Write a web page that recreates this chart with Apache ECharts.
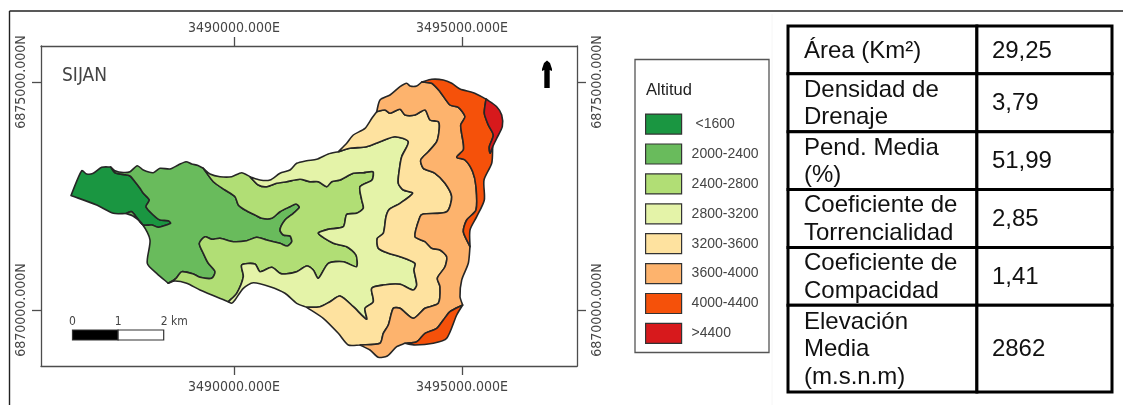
<!DOCTYPE html>
<html><head><meta charset="utf-8">
<style>html,body{margin:0;padding:0;background:#fff}#c{width:1123px;height:405px}</style>
<script src="https://cdn.jsdelivr.net/npm/echarts@6/dist/echarts.min.js"></script>
</head><body><div id="c"></div>
<script>
// Digitised map grid: origin 3490000E / 6870000N, 228 grid units = 5000 m.
const originE = 3490000, originN = 6870000, metresPerUnit = 5000 / 228;
const tickE = [3490000, 3495000];
const tickN = [6870000, 6875000];
const bandNames = ['<1600','2000-2400','2400-2800','2800-3200','3200-3600','3600-4000','4000-4400','>4400'];
const bandColors = ['#1a9641','#69bb5c','#b1de75','#e4f3a8','#fee29f','#fdb36d','#f5510a','#d7191c'];

// basin outline, clockwise, piece by piece
const edgeA = [[-163,114.5],[-152.3,139.3],[-147.3,136],[-140.7,136.7],[-132.3,142.7],[-123.3,143]];
const edgeB = [[-123.3,143],[-119,139.3],[-110.7,137.5],[-104,138.3],[-96.7,144.3],[-90.7,140],[-80.7,137.3],[-74,141.7],[-64,141],[-55.7,145],[-48,148.3],[-42.3,146],[-36,144.5],[-30.7,141.7]];
const edgeC = [[-30.7,141.7],[-24,136],[-14,133.3],[-2.3,133.3],[7.7,137.3],[16,133.3]];
const edgeD = [[16,133.3],[26,130],[36,130],[46,136.7],[56,140],[62.7,146.7],[72.7,149.3],[82.7,150.7],[94.3,156],[104.3,158.3]];
const edgeE = [[104.3,158.3],[112.7,166.7],[119.3,175],[131,181.7],[138,192],[142.7,198.3]];
const edgeF = [[142.7,198.3],[146,210],[156,215],[166,223.3],[172.7,226.7],[176,224],[182.7,224],[187.7,228]];
const edgeG = [[187.7,228],[197.7,230.7],[209.3,230],[217.7,226.7],[226,221],[239.3,217.3],[252,211]];
const edgeH = [[252,211],[262.7,203.3],[267.7,195],[268.3,183.3],[262.7,171.7],[258.7,163.3]];
const edgeI = [[258.7,163.3],[257.7,146.7],[250,130],[250.3,110],[242.7,93.3],[236,80],[236,63.3]];
const edgeJ = [[236,63.3],[234.3,46.7],[227.7,30],[226,13.3],[228.7,5]];
const edgeK = [[228.7,5],[222.7,-5],[212.7,-28.3],[199.3,-33.3],[181,-35],[171,-33.3]];
const edgeL = [[171,-33.3],[162.7,-36.7],[153.3,-46],[144.3,-47.3],[136,-40],[126,-35]];
const edgeM = [[126,-35],[114.3,-35],[104.3,-23.3],[89.3,-8.3],[72.7,2.7]];
const edgeN = [[72.7,2.7],[62.7,6.7],[51,16.7],[36,23.3],[19.3,27.3],[9.3,21.7],[1,10],[-2.3,6.7],[-5.7,8.3]];
const edgeO = [[-5.7,8.3],[-34,20],[-47.3,26.7],[-59,29],[-65.7,26.7]];
const edgeP = [[-65.7,26.7],[-77.3,36.7],[-86.7,46.7],[-84,70],[-92.3,86.7],[-101,94],[-108,96.5]];
const edgeQ = [[-108,96.5],[-120.7,96.7],[-137.3,105],[-163,114.5]];

// contours between the altitude bands
const contourA = [[-123.3,143],[-119,137.3],[-110.7,135.5],[-104,134],[-99,128.3],[-94,121.7],[-90.7,116.7],[-84.7,110],[-88,103.3],[-80.7,95],[-74,90],[-65.7,89.3],[-63.3,86.7],[-70.7,84],[-75.7,82.7],[-82.3,85],[-90.7,85],[-96.7,91.7],[-102.3,98.3],[-108,96.5]];
const contourB = [[-30.7,141.7],[-20.7,128.3],[-9,120],[1,113.3],[4.3,105],[11,100],[21,95],[27.7,91.7],[37.7,91.7],[46,98.3],[56,103.3],[62,106],[65.3,102.7],[59.3,96.7],[51,90],[46,80],[49.3,75],[56,74],[57.7,68.3],[53.3,64],[46,66.7],[32.7,70],[22.7,72.7],[12.7,69.3],[-0.7,68.3],[-14,71.7],[-22.3,70.7],[-29,73.3],[-34.7,66.7],[-30.7,56.7],[-25.7,46.7],[-19,38.3],[-22.3,31.7],[-34,32.7],[-40.7,36],[-52.3,38.3],[-58,31.7],[-65.7,26.7]];
const contourC = [[16,133.3],[24.3,125],[32.7,123.3],[42.7,126.7],[52.7,128.3],[66,130.7],[76,128.3],[84.3,128.3],[92.7,123.3],[97.7,128.3],[106,130],[119.3,136.7],[129.3,137.3],[139,138.3],[138,130],[126,123.3],[127.7,110],[129.3,101.7],[122.7,96.7],[112.7,95.5],[109.3,83.3],[94.3,80.7],[84.3,76.7],[99.3,66.7],[112.7,63.3],[122,55],[122.5,43.3],[109.3,48.3],[94.3,46.7],[84.3,31.7],[79.3,40],[72.7,44],[62.7,38.3],[51,36],[46,36.7],[37.7,42.7],[26,38.3],[21,46],[7.7,45],[9.3,33.3],[2.7,16.7],[-5.7,8.3]];
const contourD = [[72.7,2.7],[86,3.3],[96,8.3],[106,14],[119.3,3.3],[132.7,-9.3],[131,1.7],[139.3,8.3],[137.7,21.7],[149.3,25],[166,25.7],[179.3,20],[182.7,25],[180,40],[181,46.7],[166,53.3],[154.3,56.7],[144.3,61.7],[143.3,71.7],[149.3,76.7],[152,93.3],[155.3,100.7],[166,106.7],[178.7,116.7],[169.3,120],[164.3,126.7],[165.3,140],[167.7,153.3],[174.3,168.3],[161,173.3],[146,168.3],[132.7,163.3],[116,161.7],[104.3,158.3]];
const contourE = [[126,-35],[146,-33.3],[149.3,-23.3],[154.3,-15],[159.3,1.7],[166,1.7],[179.3,-8.3],[191,1.7],[204.3,6.7],[206,23.3],[203.3,31.7],[211,43.3],[212.7,53.3],[206,60],[197.7,61.7],[191,68.3],[181,73.3],[186,93.3],[189.3,96],[212.7,98.3],[217.7,113.3],[211,126.7],[201,136.7],[189.3,141.7],[186.7,150],[194.3,158.3],[202.7,168.3],[205.3,181.7],[204.3,188.3],[196,190],[191,200],[181,195],[171,195],[166,200.7],[156,196.7],[151,200],[142.7,198.3]];
const contourF = [[187.7,228],[197.7,226.7],[206,218.3],[216,205],[224.3,202.7],[231,193.3],[226.7,185],[229.3,166.7],[229.3,160],[222.7,152.7],[231,150],[238.7,138.3],[242,123.3],[242,100],[232.7,90],[229.3,78.3],[236,63.3]];
const contourS = [[228.7,5],[216,-1.7],[209.3,-10],[202.7,-18.3],[191,-23.3],[182.7,-31.7],[171,-33.3]];
const contourR = [[252,211],[250.3,196.7],[254.3,185],[259.3,175],[255.3,163.3],[256,156.7],[258.7,163.3]];

const scaleKm = [[0,1],[1,2]];
const scaleLabels = ['0','1','2 km'];
const tableLabels = ['Área (Km²)','Densidad de\nDrenaje','Pend. Media\n(%)','Coeficiente de\nTorrencialidad','Coeficiente de\nCompacidad','Elevación\nMedia\n(m.s.n.m)'];
const tableValues = ['29,25','3,79','51,99','2,85','1,41','2862'];

const rev = a => a.slice().reverse();
const toMap = p => [originE + p[0] * metresPerUnit, originN + p[1] * metresPerUnit];
const bandPolygons = [
  [[...edgeA, ...contourA, ...edgeQ]],
  [[...edgeB, ...contourB, ...edgeP, ...rev(contourA)]],
  [[...edgeC, ...contourC, ...edgeO, ...rev(contourB)]],
  [[...edgeD, ...rev(contourD), ...edgeN, ...rev(contourC)]],
  [[...edgeE, ...rev(contourE), ...edgeM, ...contourD]],
  [[...edgeF, ...contourF, ...edgeJ, ...contourS, ...edgeL, ...contourE]],
  [[...edgeG, ...contourR, ...edgeI, ...rev(contourF)], [...edgeK, ...rev(contourS)]],
  [[...edgeH, ...rev(contourR)]]
].map(list => list.map(poly => poly.map(toMap)));

// page layout
const frame = {l: 41, t: 46, w: 536, h: 320};
const zeroPx = {x: 234, y: 310};
const mapFont = '"DejaVu Sans Condensed","DejaVu Sans"';
const tableFont = '"Liberation Sans",Arial';
const axisE = px => originE + (px - zeroPx.x) * metresPerUnit;
const axisN = py => originN + (zeroPx.y - py) * metresPerUnit;
const frameLine = {show: true, onZero: false, lineStyle: {color: '#4d4d4d', width: 1.3}};

function xAx(pos, margin) {
  return {type: 'value', gridIndex: 0, position: pos, min: axisE(frame.l), max: axisE(frame.l + frame.w),
    axisLine: frameLine, splitLine: {show: false},
    axisTick: {show: true, length: 9, customValues: tickE, lineStyle: {color: '#4d4d4d', width: 1.3}},
    axisLabel: {customValues: tickE, margin, color: '#444', fontSize: 14, fontFamily: mapFont, formatter: v => v + '.000E'}};
}
function yAx(pos) {
  return {type: 'value', gridIndex: 0, position: pos, min: axisN(frame.t + frame.h), max: axisN(frame.t),
    axisLine: frameLine, splitLine: {show: false},
    axisTick: {show: true, length: 9, customValues: tickN, lineStyle: {color: '#4d4d4d', width: 1.3}},
    axisLabel: {customValues: tickN, rotate: 90, margin: 13, color: '#444', fontSize: 14, fontFamily: mapFont, formatter: v => v + '.000N'}};
}

const bandSeries = bandNames.map((name, b) => ({
  type: 'custom', name, coordinateSystem: 'cartesian2d', xAxisIndex: 0, yAxisIndex: 0,
  itemStyle: {color: bandColors[b]}, clip: false, animation: false, silent: true,
  data: bandPolygons[b].map(poly => poly[0]),
  renderItem: (params, api) => ({
    type: 'polygon',
    shape: {points: bandPolygons[b][params.dataIndex].map(p => api.coord(p)), smooth: 0.25},
    style: {fill: bandColors[b], stroke: '#262626', lineWidth: 1.6, lineJoin: 'round'}
  })
}));

const scaleSeries = {
  type: 'custom', coordinateSystem: 'cartesian2d', xAxisIndex: 0, yAxisIndex: 0, silent: true, animation: false,
  data: scaleKm,
  renderItem: (params, api) => {
    const i = params.dataIndex, km = scaleKm[i];
    const e0 = axisE(72.5), n0 = axisN(335);
    const a = api.coord([e0 + km[0] * 1000, n0]), b = api.coord([e0 + km[1] * 1000, n0]);
    const kids = [{type: 'rect', shape: {x: a[0], y: a[1] - 5, width: b[0] - a[0], height: 10},
      style: {fill: i === 0 ? '#000' : '#fff', stroke: '#333', lineWidth: 1.2}}];
    kids.push({type: 'text', style: {text: scaleLabels[i], x: a[0], y: a[1] - 13.5, align: 'center', verticalAlign: 'middle', fill: '#444', font: '12px ' + mapFont}});
    if (i === scaleKm.length - 1) kids.push({type: 'text', style: {text: scaleLabels[i + 1], x: b[0] - 3, y: a[1] - 13.5, align: 'left', verticalAlign: 'middle', fill: '#444', font: '12px ' + mapFont}});
    return {type: 'group', children: kids};
  }
};

const rowHeight = i => Math.max(tableLabels[i].split('\n').length * 29, 48);
const tableSeries = {
  type: 'custom', coordinateSystem: 'cartesian2d', xAxisIndex: 2, yAxisIndex: 2, silent: true, animation: false, clip: false,
  data: tableLabels.map((_, i) => i),
  renderItem: (params, api) => {
    const i = params.dataIndex;
    let top = 0; for (let k = 0; k < i; k++) top += rowHeight(k);
    const h = rowHeight(i), split = 0.583;
    const p0 = api.coord([0, top]), p1 = api.coord([split, top + h]), p2 = api.coord([1, top + h]);
    const cy = (p0[1] + p1[1]) / 2 + 1;
    const cell = (x0, x1) => ({type: 'rect', shape: {x: x0, y: p0[1], width: x1 - x0, height: p1[1] - p0[1]},
      style: {fill: '#fff', stroke: '#000', lineWidth: 3}});
    const txt = (s, x) => ({type: 'text', style: {text: s, x, y: cy, align: 'left', verticalAlign: 'middle', lineHeight: 27.5, fill: '#111', font: '24px ' + tableFont}});
    return {type: 'group', children: [cell(p0[0], p1[0]), cell(p1[0], p2[0]), txt(tableLabels[i], p0[0] + 16), txt(tableValues[i], p1[0] + 15)]};
  }
};

const chart = echarts.init(document.getElementById('c'), null, {renderer: 'canvas'});
chart.setOption({
  backgroundColor: '#fff', animation: false,
  grid: [
    {left: frame.l, top: frame.t, width: frame.w, height: frame.h, containLabel: false},
    {left: 788, top: 26, width: 324, height: 366}
  ],
  xAxis: [xAx('bottom', 14.5), xAx('top', 11),
    {type: 'value', gridIndex: 1, min: 0, max: 1, show: false}],
  yAxis: [yAx('left'), yAx('right'),
    {type: 'value', gridIndex: 1, min: 0, max: 367, inverse: true, show: false}],
  legend: {
    data: bandNames, orient: 'vertical', left: 645, top: 113.5, padding: 0,
    itemWidth: 36, itemHeight: 20, itemGap: 8.7, icon: 'rect', selectedMode: false,
    itemStyle: {borderColor: '#333', borderWidth: 1.2},
    textStyle: {color: '#444', fontSize: 14, fontFamily: tableFont, padding: [0, 0, 0, 5]},
    formatter: n => n === bandNames[0] ? ' ' + n : n
  },
  series: [...bandSeries, scaleSeries, tableSeries],
  graphic: [
    {type: 'line', silent: true, shape: {x1: 9.5, y1: 11, x2: 1123, y2: 11}, style: {stroke: '#222', lineWidth: 1.4}},
    {type: 'line', silent: true, shape: {x1: 9.5, y1: 11, x2: 9.5, y2: 405}, style: {stroke: '#222', lineWidth: 1.4}},
    {type: 'line', silent: true, z: -1, shape: {x1: 772, y1: 14, x2: 772, y2: 405}, style: {stroke: '#f6f6f6', lineWidth: 1}},
    {type: 'rect', silent: true, z: -1, shape: {x: 635, y: 59.5, width: 134, height: 293}, style: {fill: '#fff', stroke: '#555', lineWidth: 1.3}},
    {type: 'text', silent: true, style: {text: 'Altitud', x: 646, y: 90.5, verticalAlign: 'middle', fill: '#222', font: '16.5px ' + tableFont}},
    {type: 'text', silent: true, style: {text: 'SIJAN', x: 62, y: 76, verticalAlign: 'middle', fill: '#444', font: '19px ' + mapFont}},
    {type: 'polygon', silent: true, shape: {points: [[547,60.5],[550,63],[552,69],[552,71],[549.7,70],[549.7,88],[544.3,88],[544.3,70],[542,71],[542,69],[544,63]]}, style: {fill: '#000'}}
  ]
});
</script></body></html>
